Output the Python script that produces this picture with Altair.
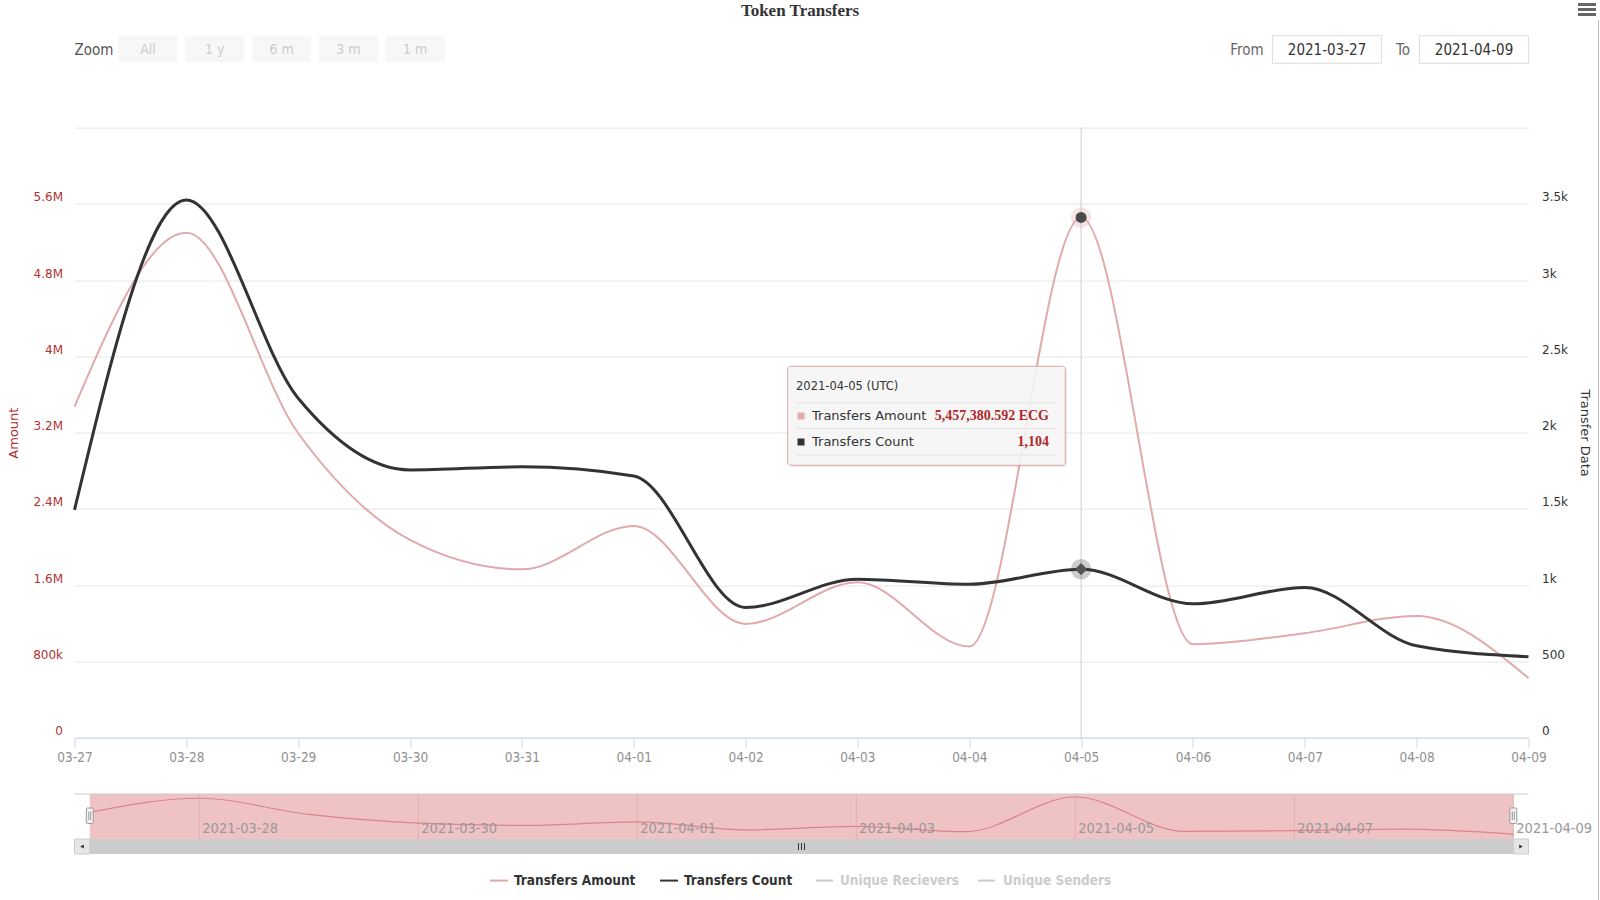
import altair as alt
import pandas as pd

# ---------------- data ----------------
dates = ["2021-03-27", "2021-03-28", "2021-03-29", "2021-03-30", "2021-03-31",
         "2021-04-01", "2021-04-02", "2021-04-03", "2021-04-04", "2021-04-05",
         "2021-04-06", "2021-04-07", "2021-04-08", "2021-04-09"]
transfers_amount = [3472000, 5296000, 3193000, 2074000, 1765000, 2221000, 1193000,
                    1630000, 955000, 5457380.592, 980000, 1096000, 1277000, 624000]
transfers_count = [1493, 3526, 2225, 1755, 1776, 1716, 853, 1039, 1006, 1104,
                   877, 984, 602, 530]
series_names = ["Transfers Amount", "Transfers Count", "Unique Recievers", "Unique Senders"]
zoom_buttons = ["All", "1 y", "6 m", "3 m", "1 m"]
amount_ticks = [0, 800000, 1600000, 2400000, 3200000, 4000000, 4800000, 5600000, 6400000]
count_ticks = [0, 500, 1000, 1500, 2000, 2500, 3000, 3500, 4000]
focus_date = "2021-04-05"
chart_title = "Token Transfers"
unit = "ECG"
axis_left_title = "Amount"
axis_right_title = "Transfer Data"

# ---------------- layout / style ----------------
OX, OY = 74.5, 127.6
W, H = 1454, 610
PINK = "#e2a9ab"
DARK = "#333333"
RED = "#ad3333"
COND = "Liberation Sans Narrow, DejaVu Sans Condensed, Arial Narrow, sans-serif"
SANS = "DejaVu Sans"
SERIF = "Liberation Serif"

df = pd.DataFrame({"date": dates, "amount": transfers_amount, "count": transfers_count})
focus_df = df[df["date"] == focus_date]
fi = dates.index(focus_date)


def dt(s):
    y, m, d = map(int, s.split("-"))
    return alt.DateTime(year=y, month=m, date=d, utc=True)


one = alt.Data(values=[{}])


def px(X):
    return alt.value(X - OX)


def py(Y):
    return alt.value(Y - OY)


def text(t, X, Y, **kw):
    return alt.Chart(one).mark_text(text=t, **kw).encode(x=px(X), y=py(Y))


def rect(X1, Y1, X2, Y2, **kw):
    return alt.Chart(one).mark_rect(**kw).encode(x=px(X1), x2=px(X2), y=py(Y1), y2=py(Y2))


def hline(X1, X2, Y, color, w=1):
    return alt.Chart(one).mark_rule(color=color, strokeWidth=w).encode(x=px(X1), x2=px(X2), y=py(Y))


def vline(X, Y1, Y2, color, w=1):
    return alt.Chart(one).mark_rule(color=color, strokeWidth=w).encode(x=px(X), y=py(Y1), y2=py(Y2))


# ---------------- main plot ----------------
xs = alt.Scale(type="utc", domain=[dt(dates[0]), dt(dates[-1])], nice=False)
x_axis = alt.Axis(values=[dt(s) for s in dates], format="%m-%d", labelFlush=False,
                  labelOverlap=False, tickSize=10, tickColor="#ccd6eb", domainColor="#ccd6eb",
                  labelColor="#909090", labelFont=COND, labelFontSize=13.5, labelPadding=3,
                  grid=False)
X = alt.X("date:T", scale=xs, axis=x_axis, title=None)

ys_amt = alt.Scale(domain=[amount_ticks[0], amount_ticks[-1]], nice=False)
left_axis = alt.Axis(values=amount_ticks,
                     labelExpr=f"datum.value >= {amount_ticks[-1]} ? '' : format(datum.value, '~s')",
                     labelColor=RED, labelFont=SANS, labelFontSize=12, labelPadding=12,
                     labelOffset=-7, ticks=False, domain=False, grid=True, gridColor="#e6e6e6",
                     title=axis_left_title, titleColor=RED, titleFont=SANS, titleFontSize=13,
                     titleFontWeight="normal", titleX=13.3 - OX, titleY=H / 2, titleAngle=-90,
                     titleAlign="center", titleBaseline="middle")
ys_cnt = alt.Scale(domain=[count_ticks[0], count_ticks[-1]], nice=False)
right_axis = alt.Axis(values=count_ticks, orient="right",
                      labelExpr=f"datum.value >= {count_ticks[-1]} ? '' : format(datum.value, '~s')",
                      labelColor=DARK, labelFont=SANS, labelFontSize=12, labelPadding=13,
                      labelOffset=-7, ticks=False, domain=False, grid=False,
                      title=axis_right_title, titleColor=DARK, titleFont=SANS, titleFontSize=13,
                      titleFontWeight="normal", titleX=1584.7 - (OX + W), titleY=H / 2,
                      titleAngle=90, titleAlign="center", titleBaseline="middle")
YA = alt.Y("amount:Q", scale=ys_amt, axis=left_axis)
YC = alt.Y("count:Q", scale=ys_cnt, axis=right_axis)

crosshair = alt.Chart(focus_df).mark_rule(color="#cccccc", strokeWidth=1).encode(
    x=X, y=alt.value(0), y2=alt.value(H))
amt_line = alt.Chart(df).mark_line(interpolate="monotone", color=PINK, strokeWidth=2).encode(x=X, y=YA)
amt_halo = alt.Chart(focus_df).mark_circle(color=PINK, opacity=0.3, size=420).encode(x=X, y=YA)
amt_pt = alt.Chart(focus_df).mark_circle(color="#4a4a4a", opacity=1, size=120).encode(x=X, y=YA)
amt_group = alt.layer(crosshair, amt_line, amt_halo, amt_pt)

cnt_line = alt.Chart(df).mark_line(interpolate="monotone", color=DARK, strokeWidth=3).encode(x=X, y=YC)
cnt_halo = alt.Chart(focus_df).mark_circle(color="#333333", opacity=0.25, size=420).encode(x=X, y=YC)
cnt_pt = alt.Chart(focus_df).mark_point(shape="diamond", filled=True, color="#555555", opacity=1,
                                        size=150).encode(x=X, y=YC)
cnt_group = alt.layer(cnt_line, cnt_halo, cnt_pt)

main = alt.layer(amt_group, cnt_group).resolve_scale(y="independent")

# ---------------- navigator ----------------
NAV_L, NAV_R = 89.8, 1513.3
NAV_T, NAV_B = 794, 839
nxs = alt.Scale(type="utc", domain=[dt(dates[0]), dt(dates[-1])], nice=False,
                range=[NAV_L - OX, NAV_R - OX])
NX = alt.X("date:T", scale=nxs, axis=None)
nys = alt.Scale(domain=[0, max(transfers_amount)], nice=False, range=[NAV_B - OY, 797 - OY])

mask_df = pd.DataFrame({"date": [dates[0]], "end": [dates[-1]]})
nav_mask = alt.Chart(mask_df).mark_rect(color="#efc3c4").encode(
    x=NX, x2="end:T", y=py(NAV_T), y2=py(NAV_B))
nav_ticks_df = pd.DataFrame({"date": dates[1::2], "label": dates[1::2]})
nav_grid = alt.Chart(nav_ticks_df).mark_rule(color="#e2aeb0", strokeWidth=1).encode(
    x=NX, y=py(NAV_T), y2=py(NAV_B))
nav_line = alt.Chart(df).mark_line(interpolate="monotone", color="#d9868b", strokeWidth=1.2).encode(
    x=NX, y=alt.Y("amount:Q", scale=nys, axis=None))
nav_labels = alt.Chart(nav_ticks_df).mark_text(align="left", dx=3, baseline="middle",
                                               font=COND, fontSize=14.5, color="#999999").encode(
    x=NX, y=py(828.6), text="label:N")
nav = alt.layer(nav_mask, nav_grid, nav_line, nav_labels)

# ---------------- decorations ----------------
decor = []
# title + menu
decor.append(text(chart_title, 800, 11, font=SERIF, fontSize=17, fontWeight="bold", color=DARK,
                  align="center", baseline="middle"))
for yy in (4.5, 9.5, 14.5):
    decor.append(hline(1578, 1596, yy, "#666666", 3))
decor.append(vline(1598.5, 20, 900, "#bbbbbb", 1))

# zoom buttons
decor.append(text("Zoom", 94, 50, font=COND, fontSize=15, color="#555555", align="center",
                  baseline="middle"))
for i, lab in enumerate(zoom_buttons):
    x0 = 118.4 + i * 66.8
    decor.append(rect(x0, 35.7, x0 + 59.2, 62.2, color="#f7f7f7"))
    decor.append(text(lab, x0 + 29.6, 49.5, font=COND, fontSize=14, color="#cccccc",
                      align="center", baseline="middle"))

# date range inputs
decor.append(text("From", 1247, 50, font=COND, fontSize=15, color="#666666", align="center",
                  baseline="middle"))
decor.append(rect(1272.4, 35.7, 1381.6, 63.3, fill="white", stroke="#dddddd", strokeWidth=1))
decor.append(text(dates[0], 1327, 49.5, font=COND, fontSize=15, color=DARK, align="center",
                  baseline="middle"))
decor.append(text("To", 1403, 50, font=COND, fontSize=15, color="#666666", align="center",
                  baseline="middle"))
decor.append(rect(1419.4, 35.7, 1528.6, 63.3, fill="white", stroke="#dddddd", strokeWidth=1))
decor.append(text(dates[-1], 1474, 49.5, font=COND, fontSize=15, color=DARK, align="center",
                  baseline="middle"))

# tooltip
decor.append(rect(789.7, 368.3, 1067.3, 467.3, color="#000000", opacity=0.07, cornerRadius=3))
decor.append(rect(787.7, 366.3, 1065.3, 465.3, fill="#f7f7f7", fillOpacity=0.88, stroke="#dca3a5",
                  strokeWidth=1, cornerRadius=3))
decor.append(text(f"{focus_date} (UTC)", 796, 387, font=SANS, fontSize=11.5, color=DARK,
                  align="left", baseline="middle"))
for yy in (403, 428.6, 455):
    decor.append(hline(796, 1056, yy, "#e3e3e3", 1))
tip_rows = [(series_names[0], f"{transfers_amount[fi]:,.3f} {unit}", PINK, 416),
            (series_names[1], f"{transfers_count[fi]:,}", DARK, 442)]
for name, val, col, yy in tip_rows:
    decor.append(rect(797.5, yy - 3.5, 804.5, yy + 3.5, color=col))
    decor.append(text(name, 812, yy, font=SANS, fontSize=13, color=DARK, align="left",
                      baseline="middle"))
    decor.append(text(val, 1049, yy, font=SERIF, fontSize=14, fontWeight="bold", color="#b0282a",
                      align="right", baseline="middle"))

# navigator outline, handles and scrollbar
decor.append(hline(OX, OX + W, NAV_T, "#cccccc", 1))
for hx in (NAV_L, NAV_R):
    decor.append(rect(hx - 3.5, 808, hx + 3.5, 823.5, fill="#f2f2f2", stroke="#999999",
                      strokeWidth=1, cornerRadius=1))
    decor.append(vline(hx - 1, 811.5, 820, "#999999", 1))
    decor.append(vline(hx + 1, 811.5, 820, "#999999", 1))
decor.append(rect(OX, 839, OX + W, 854, color="#f2f2f2"))
decor.append(rect(NAV_L, 839, NAV_R, 854, color="#cccccc"))
decor.append(rect(OX, 839, NAV_L, 854, fill="#e6e6e6", stroke="#cccccc", strokeWidth=1))
decor.append(rect(NAV_R, 839, OX + W, 854, fill="#e6e6e6", stroke="#cccccc", strokeWidth=1))
decor.append(alt.Chart(one).mark_point(shape="triangle-left", filled=True, color="#333333",
                                       size=18, opacity=1).encode(x=px(82), y=py(846.5)))
decor.append(alt.Chart(one).mark_point(shape="triangle-right", filled=True, color="#333333",
                                       size=18, opacity=1).encode(x=px(1521), y=py(846.5)))
for gx in (798.5, 801.5, 804.5):
    decor.append(vline(gx, 843, 850, "#333333", 1))

# legend
leg_sym = [(490, 508), (660, 678), (816, 833), (978, 995)]
leg_txt = [514, 684, 840, 1003]
leg_col = [PINK, DARK, "#cccccc", "#cccccc"]
leg_tcol = [DARK, DARK, "#cccccc", "#cccccc"]
for i, name in enumerate(series_names):
    decor.append(hline(leg_sym[i][0], leg_sym[i][1], 880.6, leg_col[i], 2))
    decor.append(text(name, leg_txt[i], 880.6, font=COND, fontSize=13.5, fontWeight="bold",
                      color=leg_tcol[i], align="left", baseline="middle"))

chart = alt.layer(main, nav, *decor).resolve_scale(x="independent", y="independent").properties(
    width=W, height=H,
    autosize=alt.AutoSizeParams(type="none"),
    padding={"left": OX, "top": OY, "right": 1600 - OX - W, "bottom": 900 - OY - H},
    background="white",
).configure_view(stroke="transparent")

chart.save("out.html", embed_options={"renderer": "svg", "actions": False})
